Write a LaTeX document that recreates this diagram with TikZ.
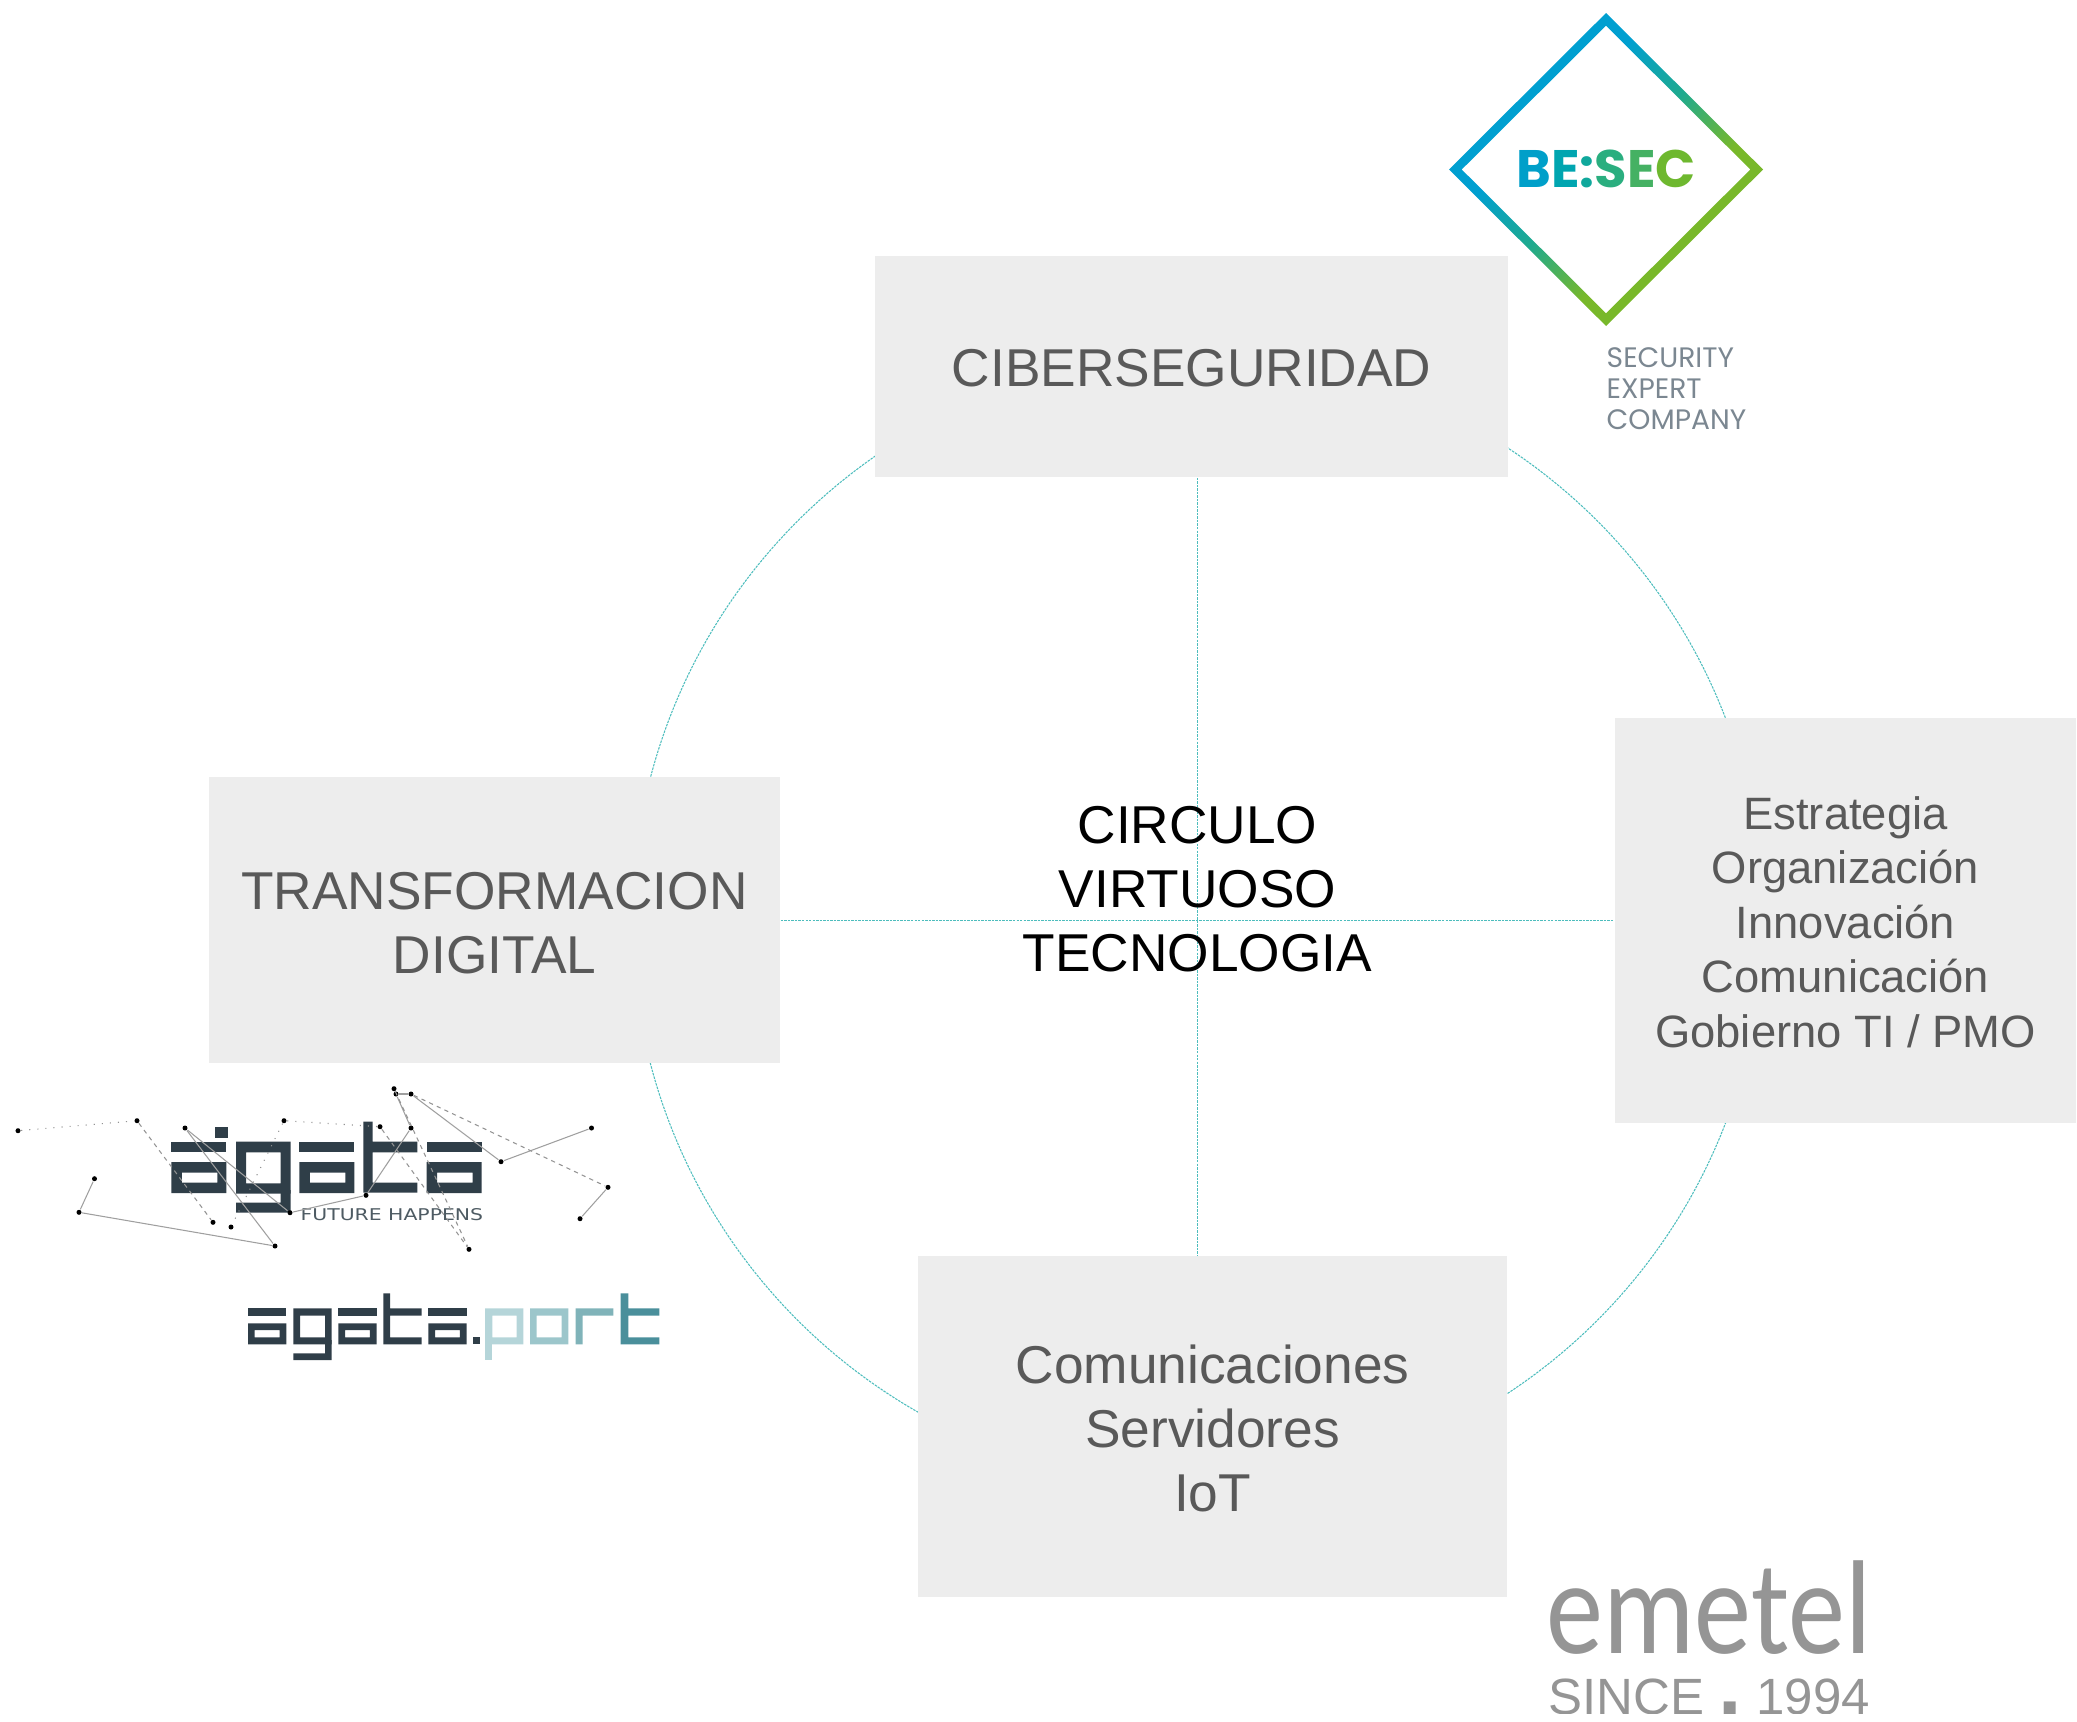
\documentclass[tikz,border=0pt]{standalone}
\usepackage{fontspec}
\setmainfont{Liberation Sans}
\newfontfamily\besecfont{Poppins}
\newfontfamily\tagfont{DejaVu Sans}
\newfontfamily\emetelfont{Carlito}
\definecolor{panelgray}{HTML}{EDEDED}
\definecolor{paneltext}{HTML}{595959}
\definecolor{ringteal}{HTML}{4DBDBD}
\definecolor{agatadark}{HTML}{2F3E48}
\definecolor{emetelgray}{HTML}{959595}
\definecolor{besecblue}{HTML}{009FD0}
\definecolor{besecmid}{HTML}{1FAA8E}
\definecolor{besecgreen}{HTML}{78B82A}
\definecolor{besecgray}{HTML}{7B8791}
\pgfdeclareverticalshading{besecgrad}{100bp}{color(0bp)=(besecgreen); color(38bp)=(besecgreen); color(50bp)=(besecmid); color(62bp)=(besecblue); color(100bp)=(besecblue)}
\newcommand{\bignudge}{\rule{0pt}{12.2pt}}
\newcommand{\smallnudge}{\rule{0pt}{10.1pt}}
\begin{document}
\begin{tikzpicture}[
    x=0.01cm, y=-0.01cm,
    panel/.style={rectangle, fill=panelgray, text=paneltext, align=center, inner sep=0pt},
    bigtext/.style={font=\fontsize{15.15}{18.2}\selectfont},
    smalltext/.style={font=\fontsize{12.9}{15.5}\selectfont},
    ring/.style={circle, draw=ringteal, line width=0.3pt, dash pattern=on 0.7pt off 0.3pt, minimum size=11.3cm, inner sep=0pt},
    axis/.style={draw=ringteal, line width=0.3pt, dash pattern=on 0.7pt off 0.3pt},
    logodot/.style={circle, fill=black, minimum size=0.05cm, inner sep=0pt},
    linksolid/.style={gray!75, line width=0.3pt},
    linkdash/.style={gray!85, line width=0.3pt, dash pattern=on 1.2pt off 1.2pt},
    linkdot/.style={gray!85, line width=0.3pt, dotted},
    emetel/.style={text=emetelgray, inner sep=0pt}
]
\useasboundingbox (0,0) rectangle (2077,1721);

% Circle
\node[ring] (ring) at (1197.5,920.6) {};

% Panels
\node[panel, bigtext, minimum width=6.32cm, minimum height=2.21cm] (ciber) at (1191.5,366.5) {\rule{0pt}{11.6pt}CIBERSEGURIDAD};
\node[panel, bigtext, minimum width=5.71cm, minimum height=2.85cm] (transf) at (494.5,920) {\bignudge TRANSFORMACION\\DIGITAL};
\node[panel, smalltext, minimum width=4.61cm, minimum height=4.05cm] (estra) at (1845.5,920.5) {\smallnudge Estrategia\\Organización\\Innovación\\Comunicación\\Gobierno TI / PMO};
\node[panel, bigtext, minimum width=5.89cm, minimum height=3.41cm] (comms) at (1212.5,1426.5) {\bignudge Comunicaciones\\Servidores\\IoT};

% Centre text and axes
\coordinate (hub) at (1197.5,920.6);
\draw[axis] (ciber.south -| hub) -- (comms.north -| hub);
\draw[axis] (transf.east |- hub) -- (estra.west |- hub);
\node[bigtext, align=center, inner sep=0pt] (centre) at (1197.5,889) {CIRCULO\\VIRTUOSO\\TECNOLOGIA};

% BE:SEC logo
\path[even odd rule, shading=besecgrad, shading angle=45]
    (1606,13) -- (1763,169.5) -- (1606,326) -- (1449,169.5) -- cycle
    (1606,25.7) -- (1750.3,169.5) -- (1606,313.3) -- (1461.7,169.5) -- cycle;
\node[font=\besecfont\bfseries\fontsize{15}{15}\selectfont, inner sep=0pt] (besec) at (1606,169) {\textcolor[HTML]{009FC9}{B}\textcolor[HTML]{00A5B0}{E}\textcolor[HTML]{10A89C}{:}\textcolor[HTML]{2AAE7F}{S}\textcolor[HTML]{45B163}{E}\textcolor[HTML]{6EB82F}{C}};
\node[font=\besecfont\fontsize{8}{8.8}\selectfont, text=besecgray, align=left, anchor=north west, inner sep=0pt] (besectag) at (1606,347) {SECURITY\\EXPERT\\COMPANY};

% Agata letters
\fill[agatadark] (215,1127) rectangle (228,1138);
\foreach \x in {171.3,299.3,426.7}{
    \fill[agatadark] (\x,1141.7) rectangle (\x+55,1152.3);
    \fill[agatadark, even odd rule] (\x,1162) rectangle (\x+55,1193) (\x+10.5,1172.7) rectangle (\x+46,1182.7);
}
\fill[agatadark, even odd rule] (236,1141.7) rectangle (290.7,1193.7) (246,1152.3) rectangle (280.7,1183.3);
\fill[agatadark] (280.7,1190) rectangle (290.7,1212.7) (236,1202.7) rectangle (290.7,1212.7);
\fill[agatadark] (363.3,1121.7) rectangle (372.7,1192.7) (363.3,1141.7) rectangle (417.3,1152.3) (363.3,1182.7) rectangle (417.3,1192.7);
\node[font=\tagfont\fontsize{4.6}{4.6}\selectfont, text=agatadark!85, anchor=base west, inner sep=0pt] (agatatag) at (300,1220.7) {\scalebox{1.26}[1]{FUTURE HAPPENS}};

% Agata network
\foreach \name/\x/\y in {d1/18/1130.7, d2/137/1120.7, d3/185/1128, d4/284/1120.7, d5/380/1126.7, d6/411/1128,
    d7/394/1088.7, d8/396/1094, d9/411/1094, d10/501/1161.7, d11/591.5/1128, d12/608/1187.3, d13/580/1218.7,
    d14/469/1249.3, d15/366/1195.3, d16/290/1212.7, d17/275/1246, d18/231/1227, d19/213/1222.3, d20/79/1212.3, d21/94.5/1178.7}{
    \node[logodot] (\name) at (\x,\y) {};
}
\foreach \a/\b in {d3/d16, d3/d17, d20/d17, d20/d21, d9/d10, d10/d11, d12/d13, d6/d15, d15/d16, d8/d6, d8/d9, d7/d8}{
    \draw[linksolid] (\a) -- (\b);
}
\foreach \a/\b in {d2/d19, d5/d14, d7/d14, d9/d12}{
    \draw[linkdash] (\a) -- (\b);
}
\foreach \a/\b in {d1/d2, d4/d5, d4/d18}{
    \draw[linkdot] (\a) -- (\b);
}

% Agata.port letters
\foreach \x in {248,338.3,428.3}{
    \fill[agatadark] (\x,1308.3) rectangle (\x+38.4,1315.7);
    \fill[agatadark, even odd rule] (\x,1323.3) rectangle (\x+38.4,1344.3) (\x+6.7,1330) rectangle (\x+31.6,1337.3);
}
\fill[agatadark, even odd rule] (293.3,1308.3) rectangle (331.7,1344.3) (300,1315.7) rectangle (325,1337.3);
\fill[agatadark] (325,1340) rectangle (331.7,1360) (293.3,1353.3) rectangle (331.7,1360);
\fill[agatadark] (383.3,1293.3) rectangle (390,1344.3) (383.3,1308.3) rectangle (421.7,1315.7) (383.3,1337.3) rectangle (421.7,1344.3);
\fill[agatadark] (473.3,1337.3) rectangle (480,1344.3);
\fill[even odd rule, fill={rgb,255:red,181;green,213;blue,217}] (485,1308.3) rectangle (523.3,1344.3) (492.3,1315.7) rectangle (516.7,1337.3);
\fill[fill={rgb,255:red,181;green,213;blue,217}] (485,1340) rectangle (492.3,1360);
\fill[even odd rule, fill={rgb,255:red,156;green,198;blue,203}] (530,1308.3) rectangle (568.3,1344.3) (536.7,1315.7) rectangle (561.7,1337.3);
\fill[fill={rgb,255:red,128;green,179;blue,185}] (575.7,1308.3) rectangle (582.7,1344.3) (575.7,1308.3) rectangle (613.3,1315.7);
\fill[fill={rgb,255:red,74;green,143;blue,155}] (620.7,1293.3) rectangle (628.3,1344.3) (620.7,1308.3) rectangle (659.3,1315.7) (620.7,1337.3) rectangle (659.3,1344.3);

% Emetel logo
\node[emetel, anchor=base west] (emetelname) at (1546,1653) {\emetelfont\fontsize{38}{38}\selectfont\scalebox{0.855}[1]{emetel}};
\begin{scope}
\clip (1500,1660) rectangle (1900,1713);
\node[emetel, anchor=base west, font=\fontsize{14.5}{14.5}\selectfont] (since) at (1548,1714.5) {SINCE {\bfseries\fontsize{24}{24}\selectfont .} 1994};
\end{scope}

\end{tikzpicture}
\end{document}
